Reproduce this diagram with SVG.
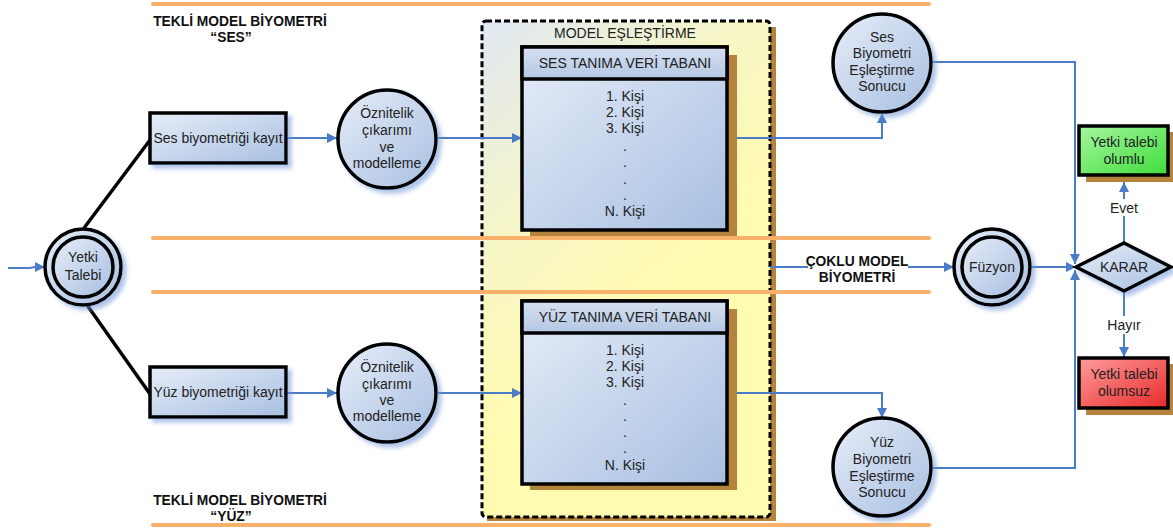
<svg xmlns="http://www.w3.org/2000/svg" width="1173" height="529" viewBox="0 0 1173 529">
<defs>
<linearGradient id="gBlue" x1="0" y1="0" x2="1" y2="1">
<stop offset="0" stop-color="#e6edf8"/><stop offset="1" stop-color="#a8bfe1"/>
</linearGradient>
<linearGradient id="gHead" x1="0" y1="0" x2="0" y2="1">
<stop offset="0" stop-color="#d6e1f1"/><stop offset="1" stop-color="#b3c6e3"/>
</linearGradient>
<linearGradient id="gYel" gradientUnits="userSpaceOnUse" x1="482" y1="21" x2="700" y2="260">
<stop offset="0" stop-color="#e0e8f4"/><stop offset="0.55" stop-color="#f7f6c6"/><stop offset="1" stop-color="#fffbb0"/>
</linearGradient>
<linearGradient id="gGreen" x1="0" y1="0" x2="1" y2="1">
<stop offset="0" stop-color="#a6f7a0"/><stop offset="1" stop-color="#3fdc3a"/>
</linearGradient>
<linearGradient id="gRed" x1="0" y1="0" x2="1" y2="1">
<stop offset="0" stop-color="#ff9c9c"/><stop offset="1" stop-color="#e82a2a"/>
</linearGradient>
<filter id="sh" x="-20%" y="-20%" width="150%" height="150%">
<feGaussianBlur in="SourceAlpha" stdDeviation="2"/>
<feOffset dx="4" dy="4" result="b"/>
<feFlood flood-color="#6f95d6" flood-opacity="0.55"/>
<feComposite in2="b" operator="in"/>
<feMerge><feMergeNode/><feMergeNode in="SourceGraphic"/></feMerge>
</filter>
<marker id="arr" viewBox="0 0 10 10" refX="10" refY="5" markerWidth="11" markerHeight="10" markerUnits="userSpaceOnUse" orient="auto">
<path d="M0,0 L10,5 L0,10 z" fill="#4a7cc7"/>
</marker>
</defs>
<style>
.t{font-family:"Liberation Sans",Arial,sans-serif;font-size:14px;fill:#222;text-anchor:middle}
.tb{font-family:"Liberation Sans",Arial,sans-serif;font-size:13.8px;font-weight:bold;fill:#111;text-anchor:middle}
.or{stroke:#f9b06a;stroke-width:4;stroke-linecap:round;fill:none}
.nd{fill:url(#gBlue);stroke:#000;stroke-width:3.5}
.bl{stroke:#4a7cc7;stroke-width:2;fill:none}
.ba{stroke:#4a7cc7;stroke-width:2;fill:none;marker-end:url(#arr)}
.blk{stroke:#000;stroke-width:3.5;fill:none}
.brown{fill:#b5843c}
</style>

<g id="model-eslestirme">
<rect class="brown" x="769" y="27" width="7" height="494"/>
<rect class="brown" x="487" y="515" width="289" height="6"/>
<rect x="482" y="21" width="288" height="496" rx="4" fill="url(#gYel)" stroke="#000" stroke-width="3" stroke-dasharray="6,3"/>
<text class="t" x="625" y="38">MODEL EŞLEŞTİRME</text>
</g>

<g id="lanes">
<line class="or" x1="153" y1="4" x2="929" y2="4"/>
<line class="or" x1="153" y1="238" x2="929" y2="238"/>
<line class="or" x1="153" y1="292" x2="929" y2="292"/>
<line class="or" x1="153" y1="525" x2="929" y2="525"/>
<text class="tb" x="240" y="26">TEKLİ MODEL BİYOMETRİ</text>
<text class="tb" x="231" y="42">“SES”</text>
<text class="tb" x="240" y="505">TEKLİ MODEL BİYOMETRİ</text>
<text class="tb" x="231" y="521">“YÜZ”</text>
</g>

<g id="connectors">
<line class="bl" x1="8" y1="268" x2="30" y2="268"/>
<path class="ba" d="M30,268 L35,267 L45,267"/>
<line class="blk" x1="84" y1="228" x2="150" y2="140"/>
<line class="blk" x1="87" y1="305" x2="150" y2="394"/>
<line class="ba" x1="287" y1="138" x2="337" y2="138"/>
<line class="ba" x1="438" y1="138" x2="522" y2="138"/>
<path class="ba" d="M727,138 L882,138 L882,113"/>
<line class="ba" x1="287" y1="393" x2="337" y2="393"/>
<line class="ba" x1="438" y1="393" x2="522" y2="393"/>
<path class="ba" d="M727,393 L882,393 L882,418"/>
<path class="ba" d="M932,62 L1075,62 L1075,264"/>
<path class="ba" d="M932,468 L1075,468 L1075,270"/>
<line class="ba" x1="1030" y1="267" x2="1076" y2="267"/>
<line class="bl" x1="770" y1="267" x2="808" y2="267"/>
<line class="ba" x1="908" y1="267" x2="954" y2="267"/>
<line class="ba" x1="1124" y1="243" x2="1124" y2="182"/>
<line class="ba" x1="1124" y1="291" x2="1124" y2="357"/>
<rect x="1104" y="199" width="40" height="17" fill="#fff"/>
<text class="t" x="1124" y="213">Evet</text>
<rect x="1102" y="316" width="44" height="18" fill="#fff"/>
<text class="t" x="1124" y="330">Hayır</text>
<text class="tb" x="857" y="266">ÇOKLU MODEL</text>
<text class="tb" x="857" y="282">BİYOMETRİ</text>
</g>

<g id="yetki-talebi">
<circle class="nd" cx="83" cy="267" r="38" filter="url(#sh)"/>
<circle class="nd" cx="83" cy="267" r="30"/>
<text class="t" x="83" y="262">Yetki</text>
<text class="t" x="83" y="280">Talebi</text>
</g>

<g id="ses-kayit">
<rect class="nd" x="150" y="113" width="136" height="50" filter="url(#sh)"/>
<text class="t" x="218" y="143">Ses biyometriği kayıt</text>
</g>

<g id="yuz-kayit">
<rect class="nd" x="150" y="367" width="136" height="50" filter="url(#sh)"/>
<text class="t" x="218" y="397">Yüz biyometriği kayıt</text>
</g>

<g id="oznitelik-ses">
<circle class="nd" cx="387" cy="139" r="49" filter="url(#sh)"/>
<text class="t" x="387" y="118">Öznitelik</text>
<text class="t" x="387" y="135">çıkarımı</text>
<text class="t" x="387" y="152">ve</text>
<text class="t" x="387" y="168">modelleme</text>
</g>

<g id="oznitelik-yuz">
<circle class="nd" cx="387" cy="393" r="49" filter="url(#sh)"/>
<text class="t" x="387" y="372">Öznitelik</text>
<text class="t" x="387" y="389">çıkarımı</text>
<text class="t" x="387" y="405">ve</text>
<text class="t" x="387" y="421">modelleme</text>
</g>

<g id="ses-veritabani">
<rect class="brown" x="530" y="55" width="207" height="181"/>
<rect x="522" y="47" width="205" height="183" fill="url(#gBlue)" stroke="#000" stroke-width="3.5"/>
<rect x="522" y="47" width="205" height="32" fill="url(#gHead)" stroke="#000" stroke-width="3.5"/>
<text class="t" x="625" y="68">SES TANIMA VERİ TABANI</text>
<text class="t" x="625" y="101">1. Kişi</text>
<text class="t" x="625" y="117">2. Kişi</text>
<text class="t" x="625" y="133">3. Kişi</text>
<text class="t" x="625" y="151">.</text>
<text class="t" x="625" y="167">.</text>
<text class="t" x="625" y="184">.</text>
<text class="t" x="625" y="200">.</text>
<text class="t" x="625" y="216">N. Kişi</text>
</g>

<g id="yuz-veritabani">
<rect class="brown" x="530" y="309" width="207" height="181"/>
<rect x="522" y="301" width="205" height="183" fill="url(#gBlue)" stroke="#000" stroke-width="3.5"/>
<rect x="522" y="301" width="205" height="32" fill="url(#gHead)" stroke="#000" stroke-width="3.5"/>
<text class="t" x="625" y="322">YÜZ TANIMA VERİ TABANI</text>
<text class="t" x="625" y="355">1. Kişi</text>
<text class="t" x="625" y="371">2. Kişi</text>
<text class="t" x="625" y="387">3. Kişi</text>
<text class="t" x="625" y="405">.</text>
<text class="t" x="625" y="421">.</text>
<text class="t" x="625" y="437">.</text>
<text class="t" x="625" y="453">.</text>
<text class="t" x="625" y="470">N. Kişi</text>
</g>

<g id="ses-sonucu">
<circle class="nd" cx="882" cy="63" r="49" filter="url(#sh)"/>
<text class="t" x="882" y="42">Ses</text>
<text class="t" x="882" y="58">Biyometri</text>
<text class="t" x="882" y="75">Eşleştirme</text>
<text class="t" x="882" y="91">Sonucu</text>
</g>

<g id="yuz-sonucu">
<circle class="nd" cx="882" cy="467" r="49" filter="url(#sh)"/>
<text class="t" x="882" y="447">Yüz</text>
<text class="t" x="882" y="464">Biyometri</text>
<text class="t" x="882" y="481">Eşleştirme</text>
<text class="t" x="882" y="497">Sonucu</text>
</g>

<g id="fuzyon">
<circle class="nd" cx="992" cy="267" r="38" filter="url(#sh)"/>
<circle class="nd" cx="992" cy="267" r="30"/>
<text class="t" x="992" y="272">Füzyon</text>
</g>

<g id="karar">
<polygon class="nd" points="1076,267 1124,243 1171,267 1124,291" filter="url(#sh)"/>
<text class="t" x="1124" y="272">KARAR</text>
</g>

<g id="olumlu">
<rect class="brown" x="1086" y="132" width="87" height="50"/>
<rect x="1079" y="126" width="89" height="49" fill="url(#gGreen)" stroke="#000" stroke-width="3.5"/>
<text class="t" x="1124" y="147">Yetki talebi</text>
<text class="t" x="1124" y="164">olumlu</text>
</g>

<g id="olumsuz">
<rect class="brown" x="1086" y="364" width="87" height="51"/>
<rect x="1079" y="358" width="89" height="50" fill="url(#gRed)" stroke="#000" stroke-width="3.5"/>
<text class="t" x="1124" y="379">Yetki talebi</text>
<text class="t" x="1124" y="396">olumsuz</text>
</g>
</svg>
